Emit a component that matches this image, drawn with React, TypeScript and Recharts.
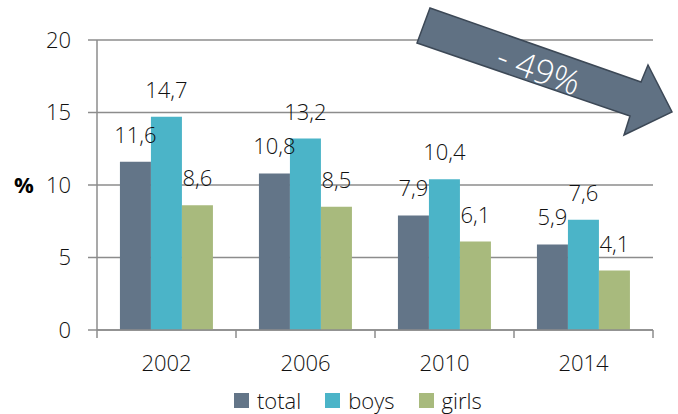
import React from 'react';
import { BarChart, Bar, XAxis, YAxis, CartesianGrid, LabelList, Legend } from 'recharts';

const years = ['2002', '2006', '2010', '2014'];
const total = [11.6, 10.8, 7.9, 5.9];
const boys = [14.7, 13.2, 10.4, 7.6];
const girls = [8.6, 8.5, 6.1, 4.1];
const yTicks = [0, 5, 10, 15, 20];

const data = years.map((y, i) => ({ year: y, total: total[i], boys: boys[i], girls: girls[i] }));

const FONT = '"Open Sans", sans-serif';
const TEXT = '#111111';
const AXIS = '#8c8c8c';
const C_TOTAL = '#637588';
const C_BOYS = '#4bb4c8';
const C_GIRLS = '#a8ba7d';

const fmt = (v: any) => String(v).replace('.', ',');

const XTick = (props: any) => {
  const { x, y, payload, index } = props;
  const off = payload && payload.offset ? payload.offset : 69.5;
  return (
    <g>
      {index === 0 && <line x1={x - off} x2={x - off} y1={y} y2={y + 8} stroke={AXIS} strokeWidth={1.5} />}
      <line x1={x + off} x2={x + off} y1={y} y2={y + 8} stroke={AXIS} strokeWidth={1.5} />
      <text x={x} y={y + 25} dy="0.71em" textAnchor="middle" fontSize={22} fontFamily={FONT} fontWeight={300} fill={TEXT}>
        {payload.value}
      </text>
    </g>
  );
};

const legendItems = [
  { name: 'total', color: C_TOTAL },
  { name: 'boys', color: C_BOYS },
  { name: 'girls', color: C_GIRLS },
];

const LegendContent = () => (
  <div style={{ display: 'flex', alignItems: 'center', height: 28, fontFamily: FONT, fontSize: 22, fontWeight: 300, color: TEXT }}>
    {legendItems.map((it, i) => (
      <div key={it.name} style={{ display: 'flex', alignItems: 'center', marginRight: i < 2 ? 24 : 0 }}>
        <div style={{ width: 15, height: 15, background: it.color, marginRight: 8 }} />
        <span style={{ lineHeight: '28px' }}>{it.name}</span>
      </div>
    ))}
  </div>
);

export default function App() {
  return (
    <div style={{ position: 'absolute', left: 0, top: 0, width: 678, height: 414, background: '#fff' }}>
      <BarChart
        width={678}
        height={414}
        data={data}
        margin={{ top: 40, right: 25, bottom: 0, left: 0 }}
        barCategoryGap="16.5%"
        barGap={0}
      >
        <CartesianGrid vertical={false} stroke={AXIS} strokeWidth={1.5} />
        <XAxis
          dataKey="year"
          height={56}
          axisLine={{ stroke: AXIS, strokeWidth: 1.5 }}
          tickLine={false}
          tickSize={0}
          tickMargin={0}
          tick={<XTick />}
          interval={0}
        />
        <YAxis
          width={97}
          domain={[0, 20]}
          ticks={yTicks}
          axisLine={{ stroke: AXIS, strokeWidth: 1.5 }}
          tickLine={{ stroke: AXIS, strokeWidth: 1.5 }}
          tickSize={9}
          tickMargin={17}
          tick={{ fontSize: 22, fontFamily: FONT, fontWeight: 300, fill: TEXT }}
          label={{ value: '%', position: 'insideLeft', offset: 14, fontSize: 22, fontWeight: 700, fontFamily: FONT, fill: '#000' }}
        />
        <Legend content={<LegendContent />} verticalAlign="bottom" wrapperStyle={{ left: 234, width: 280 }} />
        <Bar dataKey="total" name="total" fill={C_TOTAL} isAnimationActive={false}>
          <LabelList dataKey="total" position="top" offset={19} formatter={fmt} style={{ fontSize: 22, fontFamily: FONT, fontWeight: 300, fill: TEXT }} />
        </Bar>
        <Bar dataKey="boys" name="boys" fill={C_BOYS} isAnimationActive={false}>
          <LabelList dataKey="boys" position="top" offset={19} formatter={fmt} style={{ fontSize: 22, fontFamily: FONT, fontWeight: 300, fill: TEXT }} />
        </Bar>
        <Bar dataKey="girls" name="girls" fill={C_GIRLS} isAnimationActive={false}>
          <LabelList dataKey="girls" position="top" offset={19} formatter={fmt} style={{ fontSize: 22, fontFamily: FONT, fontWeight: 300, fill: TEXT }} />
        </Bar>
      </BarChart>
      <svg width={678} height={414} style={{ position: 'absolute', left: 0, top: 0, pointerEvents: 'none' }}>
        <polygon
          points="430,8 641,82 648,65 672,112 624,135 630,116 417,43"
          fill="#607183"
          stroke="#3c4856"
          strokeWidth={1.5}
          strokeLinejoin="miter"
        />
        <text
          x={539}
          y={69}
          textAnchor="middle"
          dominantBaseline="central"
          fontSize={34}
          fontFamily={FONT}
          fontWeight={300}
          fill="#fff"
          transform="rotate(20 539 69)"
        >
          - 49%
        </text>
      </svg>
    </div>
  );
}
